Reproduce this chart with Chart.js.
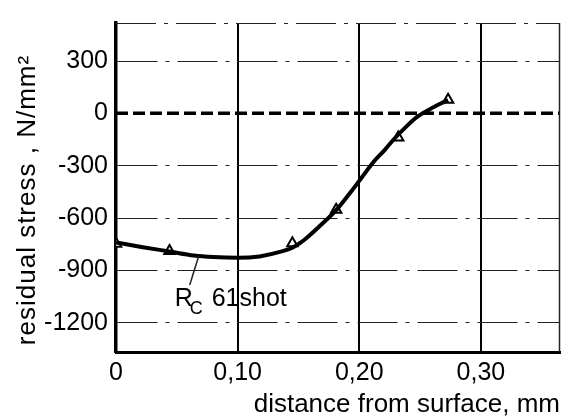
<!DOCTYPE html>
<html>
<head>
<meta charset="utf-8">
<script src="https://cdn.jsdelivr.net/npm/chart.js@4/dist/chart.umd.min.js"></script>
<style>
  body { margin: 0; background: #fff; }
  #wrap { width: 561px; height: 418px; }
</style>
</head>
<body>
<div id="wrap"><canvas id="myChart" width="561" height="418"></canvas></div>
<script>
// axis range and ticks
const xMin = 0, xMax = 0.365;
const yMin = -1368, yMax = 518;
const xTicks = [0, 0.10, 0.20, 0.30];
const xTickLabels = ['0', '0,10', '0,20', '0,30'];
const yTicks = [-1200, -900, -600, -300, 0, 300];
const yTickLabels = ['-1200', '-900', '-600', '-300', '0', '300'];

// measured points (triangles)
const pointX = [0, 0.044, 0.145, 0.181, 0.232, 0.273];
const pointY = [-748, -789, -745, -553, -138, 78];

// faired curve
const curveX = [0, 0.022, 0.044, 0.064, 0.08, 0.10, 0.118, 0.137, 0.145, 0.152, 0.159, 0.173, 0.181,
  0.194, 0.202, 0.211, 0.221, 0.229, 0.239, 0.247, 0.258, 0.269, 0.273];
const curveY = [-740, -767, -792, -815, -824, -828, -820, -790, -770, -740, -700, -610, -555,
  -442, -368, -284, -209, -144, -73, -23, 24, 63, 76];

const curveLabel = 'Rc 61shot';
const labelAt = [0.068, -818];

const font = 'Liberation Sans, Arial, sans-serif';

const extras = {
  id: 'extras',
  afterDraw(chart) {
    const { ctx, chartArea: a, scales: { x, y } } = chart;
    ctx.save();
    // thin top and right frame
    ctx.strokeStyle = '#222';
    ctx.lineWidth = 1;
    ctx.setLineDash([40, 8, 4, 8]);
    ctx.beginPath(); ctx.moveTo(a.left, a.top + 0.5); ctx.lineTo(a.right, a.top + 0.5); ctx.stroke();
    ctx.setLineDash([]);
    ctx.lineWidth = 1.5;
    ctx.beginPath(); ctx.moveTo(a.right - 0.5, a.top); ctx.lineTo(a.right - 0.5, a.bottom); ctx.stroke();

    // y axis title
    ctx.fillStyle = '#000';
    ctx.save();
    ctx.translate(28, 200);
    ctx.rotate(-Math.PI / 2);
    ctx.font = '26px ' + font;
    ctx.letterSpacing = '1px';
    ctx.textAlign = 'center';
    ctx.textBaseline = 'middle';
    ctx.fillText('residual stress , N/mm²', 0, 0);
    ctx.restore();

    // curve label with leader line
    const px = x.getPixelForValue(labelAt[0]);
    const py = y.getPixelForValue(labelAt[1]);
    ctx.lineWidth = 1.5;
    ctx.beginPath(); ctx.moveTo(px, py); ctx.lineTo(px - 9, py + 29); ctx.stroke();
    ctx.textBaseline = 'alphabetic';
    ctx.textAlign = 'left';
    ctx.font = '25px ' + font;
    ctx.fillText('R', px - 24, py + 50);
    ctx.font = '18px ' + font;
    ctx.fillText('C', px - 9, py + 58);
    ctx.font = '25px ' + font;
    ctx.fillText('61shot', px + 13, py + 50);
    ctx.restore();
  }
};

const ctx = document.getElementById('myChart').getContext('2d');
const myChart = new Chart(ctx, {
  type: 'scatter',
  data: {
    datasets: [{
      label: curveLabel,
      showLine: true,
      data: curveX.map((v, i) => ({ x: v, y: curveY[i] })),
      borderColor: '#000',
      borderWidth: 4,
      cubicInterpolationMode: 'monotone',
      pointRadius: 0
    }, {
      label: 'measured',
      data: pointX.map((v, i) => ({ x: v, y: pointY[i] })),
      pointStyle: 'triangle',
      pointRadius: 6,
      pointBorderWidth: 2,
      pointBorderColor: '#000',
      pointBackgroundColor: '#fff'
    }, {
      label: 'zero',
      showLine: true,
      data: [{ x: xMin, y: 0 }, { x: xMax, y: 0 }],
      borderColor: '#000',
      borderWidth: 3.5,
      borderDash: [12, 5],
      pointRadius: 0
    }]
  },
  options: {
    responsive: false,
    animation: false,
    layout: { autoPadding: false, padding: { top: 15, right: 1, left: 0, bottom: 0 } },
    plugins: { legend: { display: false }, tooltip: { enabled: false } },
    scales: {
      x: {
        type: 'linear',
        min: xMin,
        max: xMax,
        afterFit: s => { s.height = 66; },
        afterBuildTicks: s => { s.ticks = xTicks.map(v => ({ value: v })); },
        ticks: {
          color: '#000',
          font: { family: font, size: 25 },
          padding: 6,
          maxRotation: 0,
          callback: (v, i) => xTickLabels[i]
        },
        grid: { color: '#000', lineWidth: 2, drawTicks: false },
        border: { color: '#000', width: 3 },
        title: {
          display: true,
          text: 'distance from surface, mm',
          align: 'end',
          color: '#000',
          font: { family: font, size: 26, lineHeight: 1 },
          padding: { top: 0, bottom: 0 }
        }
      },
      y: {
        type: 'linear',
        min: yMin,
        max: yMax,
        afterFit: s => { s.width = 116; },
        afterBuildTicks: s => { s.ticks = yTicks.map(v => ({ value: v })); },
        ticks: {
          color: '#000',
          font: { family: font, size: 25 },
          padding: 8,
          callback: (v, i) => yTickLabels[i]
        },
        grid: {
          color: c => (c.tick && c.tick.value === 0) ? 'rgba(0,0,0,0)' : '#222',
          lineWidth: 1,
          drawTicks: false
        },
        border: { color: '#000', width: 3.5, dash: [40, 8, 4, 8] }
      }
    }
  },
  plugins: [extras]
});
</script>
</body>
</html>
